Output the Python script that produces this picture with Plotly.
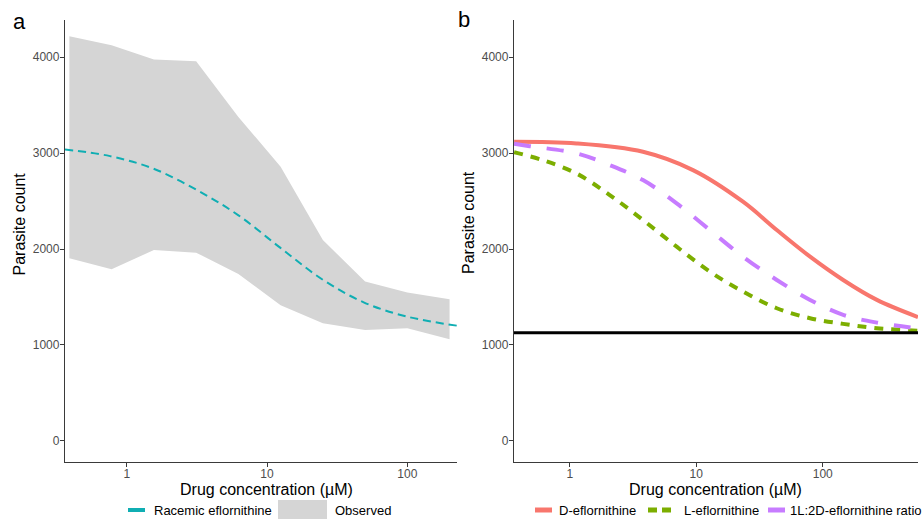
import plotly.graph_objects as go

# ---- data ----
obs_conc = [0.39, 0.78, 1.5625, 3.125, 6.25, 12.5, 25, 50, 100, 200]
obs_upper = [4219, 4125, 3976, 3958, 3378, 2857, 2094, 1660, 1545, 1476]
obs_lower = [1903, 1788, 1990, 1962, 1740, 1413, 1226, 1156, 1174, 1059]

rac_conc = [0.363, 0.76, 1.54, 3.16, 6.22, 12.4, 25.1, 49.3, 99.3, 226]
rac_count = [3038, 2969, 2840, 2615, 2354, 2014, 1677, 1441, 1295, 1200]

d_conc = [0.363, 1.13, 3.79, 9.42, 23.4, 43.3, 79.4, 145, 268, 566]
d_count = [3118, 3101, 3014, 2823, 2493, 2198, 1920, 1677, 1469, 1290]

l_conc = [0.363, 0.611, 1.13, 2.07, 3.79, 7.0, 12.8, 23.4, 43.3, 79.4, 145, 268, 566]
l_count = [3010, 2927, 2788, 2563, 2302, 2024, 1764, 1556, 1382, 1278, 1219, 1174, 1147]

mix_conc = [0.363, 0.482, 1.13, 2.07, 3.79, 7.0, 12.8, 23.4, 43.3, 79.4, 145, 268, 566]
mix_count = [3097, 3073, 2997, 2875, 2719, 2476, 2198, 1920, 1677, 1469, 1313, 1232, 1172]

baseline = 1125
y_ticks = [0, 1000, 2000, 3000, 4000]
x_ticks = [1, 10, 100]
x_ticklabels = ["1", "10", "100"]
x_title = "Drug concentration (µM)"
y_title = "Parasite count"

FONT = "Liberation Sans, Arial, sans-serif"
TEAL = "#10AEB3"
RED = "#F8766D"
GREEN = "#7CAE00"
PURPLE = "#C77CFF"
RIBBON = "#D5D5D5"

W, H = 922, 519


def px(x):
    return x / W


def py(y):
    return 1 - y / H


fig = go.Figure()

# observed ribbon
fig.add_trace(go.Scatter(
    x=obs_conc + obs_conc[::-1], y=obs_upper + obs_lower[::-1],
    fill="toself", fillcolor=RIBBON, line=dict(width=0),
    mode="lines", name="Observed", xaxis="x", yaxis="y",
    hoverinfo="skip", showlegend=False))
fig.add_trace(go.Scatter(
    x=rac_conc, y=rac_count, mode="lines", name="Racemic eflornithine",
    line=dict(color=TEAL, width=2, dash="8px,5px", shape="spline"),
    xaxis="x", yaxis="y", showlegend=False))

# right panel
fig.add_trace(go.Scatter(
    x=d_conc, y=d_count, mode="lines", name="D-eflornithine",
    line=dict(color=RED, width=4, shape="spline"),
    xaxis="x2", yaxis="y2", showlegend=False))
fig.add_trace(go.Scatter(
    x=l_conc, y=l_count, mode="lines", name="L-eflornithine",
    line=dict(color=GREEN, width=4, dash="9px,8px", shape="spline"),
    xaxis="x2", yaxis="y2", showlegend=False))
fig.add_trace(go.Scatter(
    x=mix_conc, y=mix_count, mode="lines", name="1L:2D-eflornithine ratio",
    line=dict(color=PURPLE, width=4, dash="17px,16px", shape="spline"),
    xaxis="x2", yaxis="y2", showlegend=False))

fig.add_shape(type="line", xref="x2 domain", yref="y2", x0=0, x1=1,
              y0=baseline, y1=baseline, line=dict(color="black", width=3))

axis_common = dict(
    showline=True, linecolor="#3a3a3a", linewidth=1.3, ticks="outside",
    ticklen=4, tickcolor="#3a3a3a", tickwidth=1, showgrid=False,
    zeroline=False, automargin=False,
    tickfont=dict(family=FONT, size=12, color="#4D4D4D"))

ydom = [1 - 461.7 / H, 1 - 20 / H]
fig.update_layout(
    width=W, height=H, margin=dict(l=0, r=0, t=0, b=0, autoexpand=False),
    paper_bgcolor="white", plot_bgcolor="white",
    font=dict(family=FONT), showlegend=False,
    xaxis=dict(axis_common, type="log", domain=[65 / W, 457 / W],
               range=[-0.44, 2.354], tickvals=x_ticks, ticktext=x_ticklabels,
               ticklabelstandoff=-3, anchor="y"),
    yaxis=dict(axis_common, domain=ydom, range=[-219, 4389],
               tickvals=y_ticks, ticklabelstandoff=-2, anchor="x"),
    xaxis2=dict(axis_common, type="log", domain=[514 / W, 918 / W],
                range=[-0.441, 2.753], tickvals=x_ticks, ticktext=x_ticklabels,
                ticklabelstandoff=-3, anchor="y2"),
    yaxis2=dict(axis_common, domain=ydom, range=[-219, 4389],
                tickvals=y_ticks, ticklabelstandoff=-2, anchor="x2"),
)

title_font = dict(family=FONT, size=16, color="black")
# axis titles
for cx in (266.5, 715.5):
    fig.add_annotation(text=x_title, xref="paper", yref="paper", x=px(cx), y=py(489),
                       xanchor="center", yanchor="middle", showarrow=False,
                       font=title_font)
for cx, cy in ((19.5, 224), (468, 223)):
    fig.add_annotation(text=y_title, xref="paper", yref="paper", x=px(cx), y=py(cy),
                       xanchor="center", yanchor="middle", showarrow=False,
                       textangle=-90, font=title_font)

# panel labels
fig.add_annotation(text="a", xref="paper", yref="paper", x=px(11), y=py(22),
                   xanchor="left", yanchor="middle", showarrow=False,
                   font=dict(family=FONT, size=22, color="black"))
fig.add_annotation(text="b", xref="paper", yref="paper", x=px(456), y=py(19),
                   xanchor="left", yanchor="middle", showarrow=False,
                   font=dict(family=FONT, size=22, color="black"))

# ---- legends (drawn as keys + text) ----
LEG_Y = 510
leg_font = dict(family=FONT, size=13, color="black")


def key_line(x0, x1, color, dash="solid", width=4):
    fig.add_shape(type="line", xref="paper", yref="paper",
                  x0=px(x0), x1=px(x1), y0=py(LEG_Y), y1=py(LEG_Y),
                  line=dict(color=color, width=width, dash=dash))


def key_text(x, text):
    fig.add_annotation(text=text, xref="paper", yref="paper", x=px(x), y=py(LEG_Y),
                       xanchor="left", yanchor="middle", showarrow=False,
                       font=leg_font)


key_line(128, 145, TEAL, width=4)
key_text(152, "Racemic eflornithine")
fig.add_shape(type="rect", xref="paper", yref="paper",
              x0=px(278), x1=px(327), y0=py(519), y1=py(500),
              fillcolor=RIBBON, line=dict(width=0))
key_text(333, "Observed")

key_line(535, 552, RED, width=5)
key_text(557, "D-eflornithine")
key_line(648, 671, GREEN, dash="9px,5px", width=5)
key_text(682, "L-eflornithine")
key_line(768, 785, PURPLE, width=5)
key_text(788, "1L:2D-eflornithine ratio")

fig.write_html(
    "out.html",
    config={"displayModeBar": False},
    post_script="document.body.style.margin='0';document.body.style.overflow='hidden';",
)
